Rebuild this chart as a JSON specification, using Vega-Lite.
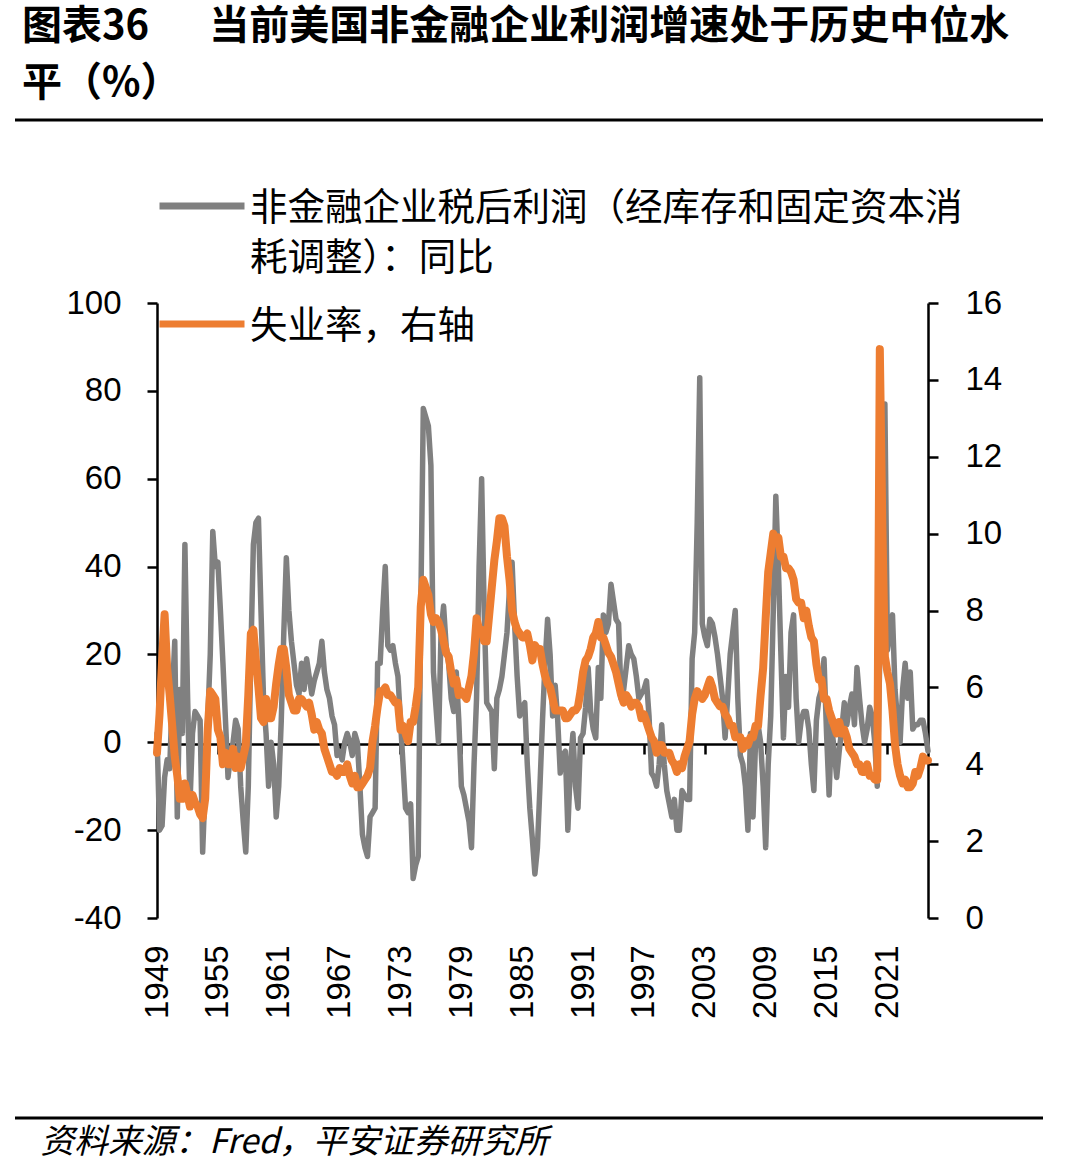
{
  "$schema": "https://vega.github.io/schema/vega-lite/v6.json",
  "width": 1028,
  "height": 998,
  "autosize": {"type": "none"},
  "padding": {"left": 15, "top": 120, "right": 22, "bottom": 57},
  "background": "white",
  "title": {
    "text": ["图表36　\u2002当前美国非金融企业利润增速处于历史中位水", "平（%）"],
    "anchor": "start",
    "frame": "group",
    "orient": "top",
    "baseline": "bottom",
    "dx": 7,
    "offset": -24,
    "lineHeight": 57,
    "font": "Noto Sans CJK SC",
    "fontSize": 40,
    "fontWeight": "bold",
    "color": "#000000"
  },
  "data": {
    "values": [
      {"t":1949,"p":2,"u":4.3},{"t":1949.25,"p":-20,"u":5.3},{"t":1949.5,"p":-19,"u":6.7},{"t":1949.75,"p":-8,"u":7.9},
      {"t":1950,"p":-4,"u":6.5},{"t":1950.25,"p":-6,"u":5.8},{"t":1950.5,"p":10,"u":5.0},{"t":1950.75,"p":23,"u":4.2},
      {"t":1951,"p":-17,"u":3.7},{"t":1951.25,"p":12,"u":3.1},{"t":1951.5,"p":2,"u":3.1},{"t":1951.75,"p":45,"u":3.5},
      {"t":1952,"p":12,"u":3.2},{"t":1952.25,"p":-14,"u":2.9},{"t":1952.5,"p":2,"u":3.2},{"t":1952.75,"p":7,"u":3.0},
      {"t":1953,"p":6,"u":2.9},{"t":1953.25,"p":5,"u":2.7},{"t":1953.5,"p":-25,"u":2.6},{"t":1953.75,"p":-10,"u":3.1},
      {"t":1954,"p":5,"u":4.9},{"t":1954.25,"p":20,"u":5.9},{"t":1954.5,"p":48,"u":5.8},{"t":1954.75,"p":40,"u":5.7},
      {"t":1955,"p":41,"u":4.9},{"t":1955.25,"p":30,"u":4.7},{"t":1955.5,"p":18,"u":4.0},{"t":1955.75,"p":5,"u":4.3},
      {"t":1956,"p":-8,"u":4.0},{"t":1956.25,"p":-3,"u":4.0},{"t":1956.5,"p":0,"u":4.4},{"t":1956.75,"p":5,"u":3.9},
      {"t":1957,"p":3,"u":4.2},{"t":1957.25,"p":-10,"u":3.9},{"t":1957.5,"p":-18,"u":4.2},{"t":1957.75,"p":-25,"u":4.5},
      {"t":1958,"p":-10,"u":5.8},{"t":1958.25,"p":20,"u":7.4},{"t":1958.5,"p":45,"u":7.5},{"t":1958.75,"p":50,"u":6.7},
      {"t":1959,"p":51,"u":6.0},{"t":1959.25,"p":30,"u":5.2},{"t":1959.5,"p":10,"u":5.1},{"t":1959.75,"p":2,"u":5.7},
      {"t":1960,"p":-10,"u":5.2},{"t":1960.25,"p":0,"u":5.2},{"t":1960.5,"p":-5,"u":5.5},{"t":1960.75,"p":-17,"u":6.1},
      {"t":1961,"p":-10,"u":6.6},{"t":1961.25,"p":5,"u":7.0},{"t":1961.5,"p":25,"u":7.0},{"t":1961.75,"p":42,"u":6.5},
      {"t":1962,"p":30,"u":5.8},{"t":1962.25,"p":23,"u":5.6},{"t":1962.5,"p":18,"u":5.4},{"t":1962.75,"p":13,"u":5.4},
      {"t":1963,"p":11,"u":5.7},{"t":1963.25,"p":18,"u":5.7},{"t":1963.5,"p":12,"u":5.6},{"t":1963.75,"p":19,"u":5.5},
      {"t":1964,"p":15,"u":5.6},{"t":1964.25,"p":11,"u":5.3},{"t":1964.5,"p":14,"u":4.9},{"t":1964.75,"p":16,"u":5.1},
      {"t":1965,"p":18,"u":4.9},{"t":1965.25,"p":23,"u":4.8},{"t":1965.5,"p":16,"u":4.4},{"t":1965.75,"p":12,"u":4.2},
      {"t":1966,"p":10,"u":4.0},{"t":1966.25,"p":6,"u":3.8},{"t":1966.5,"p":4,"u":3.8},{"t":1966.75,"p":-3,"u":3.7},
      {"t":1967,"p":-2,"u":3.9},{"t":1967.25,"p":-4,"u":3.8},{"t":1967.5,"p":0,"u":3.8},{"t":1967.75,"p":2,"u":4.0},
      {"t":1968,"p":0,"u":3.7},{"t":1968.25,"p":-3,"u":3.5},{"t":1968.5,"p":2,"u":3.7},{"t":1968.75,"p":0,"u":3.4},
      {"t":1969,"p":-10,"u":3.4},{"t":1969.25,"p":-21,"u":3.5},{"t":1969.5,"p":-24,"u":3.6},{"t":1969.75,"p":-26,"u":3.7},
      {"t":1970,"p":-17,"u":3.9},{"t":1970.25,"p":-16,"u":4.6},{"t":1970.5,"p":-15,"u":5.0},{"t":1970.75,"p":18,"u":5.5},
      {"t":1971,"p":18,"u":5.9},{"t":1971.25,"p":30,"u":5.9},{"t":1971.5,"p":40,"u":6.0},{"t":1971.75,"p":22,"u":5.8},
      {"t":1972,"p":21,"u":5.8},{"t":1972.25,"p":22,"u":5.7},{"t":1972.5,"p":18,"u":5.6},{"t":1972.75,"p":15,"u":5.6},
      {"t":1973,"p":5,"u":4.9},{"t":1973.25,"p":-5,"u":5.0},{"t":1973.5,"p":-15,"u":4.8},{"t":1973.75,"p":-16,"u":4.6},
      {"t":1974,"p":-14,"u":5.1},{"t":1974.25,"p":-31,"u":5.1},{"t":1974.5,"p":-28,"u":5.5},{"t":1974.75,"p":-26,"u":6.0},
      {"t":1975,"p":30,"u":8.1},{"t":1975.25,"p":76,"u":8.8},{"t":1975.5,"p":74,"u":8.6},{"t":1975.75,"p":72,"u":8.4},
      {"t":1976,"p":63,"u":7.9},{"t":1976.25,"p":16,"u":7.7},{"t":1976.5,"p":8,"u":7.8},{"t":1976.75,"p":0,"u":7.7},
      {"t":1977,"p":25,"u":7.5},{"t":1977.25,"p":31,"u":7.2},{"t":1977.5,"p":22,"u":6.9},{"t":1977.75,"p":18,"u":6.8},
      {"t":1978,"p":10,"u":6.4},{"t":1978.25,"p":7,"u":6.1},{"t":1978.5,"p":16,"u":6.2},{"t":1978.75,"p":5,"u":5.8},
      {"t":1979,"p":-10,"u":5.9},{"t":1979.25,"p":-12,"u":5.8},{"t":1979.5,"p":-15,"u":5.7},{"t":1979.75,"p":-18,"u":6.0},
      {"t":1980,"p":-24,"u":6.3},{"t":1980.25,"p":-5,"u":6.9},{"t":1980.5,"p":10,"u":7.8},{"t":1980.75,"p":40,"u":7.5},
      {"t":1981,"p":60,"u":7.5},{"t":1981.25,"p":30,"u":7.2},{"t":1981.5,"p":9,"u":7.2},{"t":1981.75,"p":8,"u":7.9},
      {"t":1982,"p":7,"u":8.6},{"t":1982.25,"p":-6,"u":9.3},{"t":1982.5,"p":10,"u":9.8},{"t":1982.75,"p":12,"u":10.4},
      {"t":1983,"p":15,"u":10.4},{"t":1983.25,"p":20,"u":10.2},{"t":1983.5,"p":25,"u":9.4},{"t":1983.75,"p":35,"u":8.8},
      {"t":1984,"p":41,"u":8.0},{"t":1984.25,"p":27,"u":7.7},{"t":1984.5,"p":15,"u":7.5},{"t":1984.75,"p":6,"u":7.4},
      {"t":1985,"p":8,"u":7.3},{"t":1985.25,"p":9,"u":7.3},{"t":1985.5,"p":-5,"u":7.4},{"t":1985.75,"p":-15,"u":7.1},
      {"t":1986,"p":-22,"u":6.7},{"t":1986.25,"p":-30,"u":7.1},{"t":1986.5,"p":-24,"u":7.0},{"t":1986.75,"p":-10,"u":7.0},
      {"t":1987,"p":5,"u":6.6},{"t":1987.25,"p":18,"u":6.3},{"t":1987.5,"p":28,"u":6.1},{"t":1987.75,"p":20,"u":6.0},
      {"t":1988,"p":6,"u":5.7},{"t":1988.25,"p":13,"u":5.4},{"t":1988.5,"p":5,"u":5.4},{"t":1988.75,"p":-7,"u":5.4},
      {"t":1989,"p":-3,"u":5.4},{"t":1989.25,"p":-2,"u":5.2},{"t":1989.5,"p":-20,"u":5.2},{"t":1989.75,"p":-5,"u":5.3},
      {"t":1990,"p":2,"u":5.4},{"t":1990.25,"p":-10,"u":5.4},{"t":1990.5,"p":-15,"u":5.5},{"t":1990.75,"p":1,"u":5.9},
      {"t":1991,"p":2,"u":6.4},{"t":1991.25,"p":8,"u":6.7},{"t":1991.5,"p":17,"u":6.8},{"t":1991.75,"p":7,"u":7.0},
      {"t":1992,"p":3,"u":7.3},{"t":1992.25,"p":1,"u":7.4},{"t":1992.5,"p":17,"u":7.7},{"t":1992.75,"p":10,"u":7.3},
      {"t":1993,"p":29,"u":7.3},{"t":1993.25,"p":25,"u":7.1},{"t":1993.5,"p":27,"u":6.9},{"t":1993.75,"p":36,"u":6.8},
      {"t":1994,"p":32,"u":6.6},{"t":1994.25,"p":28,"u":6.4},{"t":1994.5,"p":27,"u":6.1},{"t":1994.75,"p":10,"u":5.8},
      {"t":1995,"p":12,"u":5.6},{"t":1995.25,"p":17,"u":5.8},{"t":1995.5,"p":22,"u":5.7},{"t":1995.75,"p":20,"u":5.5},
      {"t":1996,"p":19,"u":5.6},{"t":1996.25,"p":15,"u":5.6},{"t":1996.5,"p":10,"u":5.5},{"t":1996.75,"p":11,"u":5.2},
      {"t":1997,"p":12,"u":5.3},{"t":1997.25,"p":14,"u":5.1},{"t":1997.5,"p":6,"u":4.9},{"t":1997.75,"p":-7,"u":4.7},
      {"t":1998,"p":-8,"u":4.6},{"t":1998.25,"p":-10,"u":4.3},{"t":1998.5,"p":-5,"u":4.5},{"t":1998.75,"p":4,"u":4.5},
      {"t":1999,"p":-5,"u":4.3},{"t":1999.25,"p":-11,"u":4.3},{"t":1999.5,"p":-14,"u":4.3},{"t":1999.75,"p":-17,"u":4.1},
      {"t":2000,"p":-13,"u":4.0},{"t":2000.25,"p":-20,"u":3.8},{"t":2000.5,"p":-20,"u":4.0},{"t":2000.75,"p":-11,"u":3.9},
      {"t":2001,"p":-12,"u":4.2},{"t":2001.25,"p":-13,"u":4.4},{"t":2001.5,"p":-13,"u":4.6},{"t":2001.75,"p":19,"u":5.3},
      {"t":2002,"p":25,"u":5.7},{"t":2002.25,"p":50,"u":5.9},{"t":2002.5,"p":83,"u":5.8},{"t":2002.75,"p":27,"u":5.7},
      {"t":2003,"p":24,"u":5.8},{"t":2003.25,"p":22,"u":6.0},{"t":2003.5,"p":28,"u":6.2},{"t":2003.75,"p":27,"u":6.0},
      {"t":2004,"p":24,"u":5.7},{"t":2004.25,"p":20,"u":5.6},{"t":2004.5,"p":15,"u":5.5},{"t":2004.75,"p":10,"u":5.5},
      {"t":2005,"p":1,"u":5.3},{"t":2005.25,"p":10,"u":5.2},{"t":2005.5,"p":20,"u":5.0},{"t":2005.75,"p":25,"u":5.0},
      {"t":2006,"p":30,"u":4.7},{"t":2006.25,"p":10,"u":4.7},{"t":2006.5,"p":-3,"u":4.7},{"t":2006.75,"p":-5,"u":4.4},
      {"t":2007,"p":-10,"u":4.6},{"t":2007.25,"p":-20,"u":4.5},{"t":2007.5,"p":2,"u":4.7},{"t":2007.75,"p":-17,"u":4.7},
      {"t":2008,"p":0,"u":5.0},{"t":2008.25,"p":4,"u":5.0},{"t":2008.5,"p":0,"u":5.8},{"t":2008.75,"p":-10,"u":6.5},
      {"t":2009,"p":-24,"u":7.8},{"t":2009.25,"p":-5,"u":9.0},{"t":2009.5,"p":6,"u":9.5},{"t":2009.75,"p":30,"u":10.0},
      {"t":2010,"p":56,"u":9.8},{"t":2010.25,"p":40,"u":9.9},{"t":2010.5,"p":20,"u":9.4},{"t":2010.75,"p":1,"u":9.4},
      {"t":2011,"p":15,"u":9.1},{"t":2011.25,"p":8,"u":9.1},{"t":2011.5,"p":25,"u":9.0},{"t":2011.75,"p":29,"u":8.8},
      {"t":2012,"p":10,"u":8.3},{"t":2012.25,"p":0,"u":8.2},{"t":2012.5,"p":5,"u":8.2},{"t":2012.75,"p":7,"u":7.8},
      {"t":2013,"p":7,"u":8.0},{"t":2013.25,"p":3,"u":7.6},{"t":2013.5,"p":-5,"u":7.3},{"t":2013.75,"p":-11,"u":7.2},
      {"t":2014,"p":5,"u":6.6},{"t":2014.25,"p":10,"u":6.2},{"t":2014.5,"p":12,"u":6.2},{"t":2014.75,"p":19,"u":5.7},
      {"t":2015,"p":2,"u":5.7},{"t":2015.25,"p":-12,"u":5.4},{"t":2015.5,"p":4,"u":5.2},{"t":2015.75,"p":-2,"u":5.0},
      {"t":2016,"p":-8,"u":4.8},{"t":2016.25,"p":-2,"u":5.1},{"t":2016.5,"p":3,"u":4.8},{"t":2016.75,"p":9,"u":4.9},
      {"t":2017,"p":4,"u":4.7},{"t":2017.25,"p":8,"u":4.4},{"t":2017.5,"p":11,"u":4.3},{"t":2017.75,"p":4,"u":4.2},
      {"t":2018,"p":17,"u":4.0},{"t":2018.25,"p":10,"u":4.0},{"t":2018.5,"p":4,"u":3.8},{"t":2018.75,"p":0,"u":3.8},
      {"t":2019,"p":3,"u":4.0},{"t":2019.25,"p":8,"u":3.7},{"t":2019.5,"p":6,"u":3.7},{"t":2019.75,"p":0,"u":3.6},
      {"t":2020,"p":-10,"u":3.6},{"t":2020.25,"p":20,"u":14.8},{"t":2020.5,"p":45,"u":10.2},{"t":2020.75,"p":77,"u":6.8},
      {"t":2021,"p":21,"u":6.4},{"t":2021.25,"p":25,"u":6.1},{"t":2021.5,"p":29,"u":5.4},{"t":2021.75,"p":12,"u":4.5},
      {"t":2022,"p":5,"u":4.0},{"t":2022.25,"p":0,"u":3.7},{"t":2022.5,"p":12,"u":3.5},{"t":2022.75,"p":18,"u":3.6},
      {"t":2023,"p":10,"u":3.4},{"t":2023.25,"p":16,"u":3.4},{"t":2023.5,"p":3,"u":3.5},{"t":2023.75,"p":4,"u":3.8},
      {"t":2024,"p":4,"u":3.7},{"t":2024.25,"p":5,"u":3.9},{"t":2024.5,"p":5,"u":4.2},{"t":2024.75,"p":2,"u":4.1},
      {"t":2025,"p":-2,"u":4.1}
    ]
  },
  "layer": [
    {
      "mark": {"type": "line", "strokeWidth": 5.5, "strokeJoin": "round", "strokeCap": "round"},
      "encoding": {
        "x": {
          "field": "t",
          "type": "quantitative",
          "scale": {"domain": [1949, 2025], "range": [142, 913], "nice": false, "zero": false},
          "axis": {
            "orient": "bottom",
            "offset": -374,
            "values": [1949, 1955, 1961, 1967, 1973, 1979, 1985, 1991, 1997, 2003, 2009, 2015, 2021],
            "labels": false,
            "grid": false,
            "title": null,
            "domainColor": "#000000",
            "domainWidth": 2.5,
            "tickColor": "#000000",
            "tickWidth": 2.5,
            "tickSize": 10
          }
        },
        "y": {
          "field": "p",
          "type": "quantitative",
          "scale": {"domain": [-40, 100], "range": [798, 183], "nice": false, "zero": false},
          "axis": {
            "orient": "left",
            "offset": -142,
            "values": [-40, -20, 0, 20, 40, 60, 80, 100],
            "labelExpr": "'' + datum.value",
            "grid": false,
            "title": null,
            "domainColor": "#000000",
            "domainWidth": 2.5,
            "tickColor": "#000000",
            "tickWidth": 2.5,
            "tickSize": 10,
            "labelFont": "Liberation Sans",
            "labelFontSize": 33,
            "labelColor": "#000000",
            "labelPadding": 26,
            "labelFlush": false,
            "labelOverlap": false
          }
        },
        "color": {
          "datum": "非金融企业税后利润（经库存和固定资本消耗调整）：同比",
          "type": "nominal",
          "scale": {
            "domain": ["非金融企业税后利润（经库存和固定资本消耗调整）：同比", "失业率，右轴"],
            "range": ["#808080", "#ED7D31"]
          },
          "legend": {
            "orient": "none",
            "legendX": 141,
            "legendY": 40,
            "title": null,
            "padding": 0,
            "symbolType": "stroke",
            "symbolSize": 7225,
            "symbolStrokeWidth": 7,
            "labelFont": "Noto Sans CJK SC",
            "labelFontSize": 37.5,
            "labelColor": "#000000",
            "labelLimit": 2000,
            "labelOffset": 2,
            "labelBaseline": "alphabetic",
            "rowPadding": -1,
            "labelExpr": "datum.label == '非金融企业税后利润（经库存和固定资本消耗调整）：同比' ? ['非金融企业税后利润（经库存和固定资本消', '耗调整）：同比'] : datum.label",
            "encode": {"labels": {"update": {"dy": {"value": 14}, "lineHeight": {"value": 50}}}}
          }
        }
      }
    },
    {
      "mark": {"type": "line", "strokeWidth": 8, "strokeJoin": "round", "strokeCap": "round"},
      "encoding": {
        "x": {
          "field": "t",
          "type": "quantitative",
          "scale": {"domain": [1949, 2025], "range": [142, 913], "nice": false, "zero": false},
          "axis": {
            "orient": "bottom",
            "offset": -200,
            "values": [1949, 1955, 1961, 1967, 1973, 1979, 1985, 1991, 1997, 2003, 2009, 2015, 2021],
            "labelExpr": "'' + datum.value",
            "domain": false,
            "ticks": false,
            "grid": false,
            "labelAngle": -90,
            "labelAlign": "right",
            "labelBaseline": "middle",
            "labelPadding": 27,
            "labelFont": "Liberation Sans",
            "labelFontSize": 33,
            "labelColor": "#000000",
            "labelFlush": false,
            "labelOverlap": false,
            "title": "资料来源：Fred，平安证券研究所",
            "titleFont": "Noto Sans CJK SC",
            "titleFontSize": 33.7,
            "titleFontStyle": "italic",
            "titleFontWeight": "normal",
            "titleColor": "#000000",
            "titleAlign": "left",
            "titleBaseline": "middle",
            "titleX": 25,
            "titleY": 224
          }
        },
        "y": {
          "field": "u",
          "type": "quantitative",
          "scale": {"domain": [0, 16], "range": [798, 183], "nice": false, "zero": false},
          "axis": {
            "orient": "right",
            "offset": -115,
            "values": [0, 2, 4, 6, 8, 10, 12, 14, 16],
            "grid": false,
            "title": null,
            "domainColor": "#000000",
            "domainWidth": 2.5,
            "tickColor": "#000000",
            "tickWidth": 2.5,
            "tickSize": 10,
            "labelFont": "Liberation Sans",
            "labelFontSize": 33,
            "labelColor": "#000000",
            "labelPadding": 27,
            "labelFlush": false,
            "labelOverlap": false
          }
        },
        "color": {"datum": "失业率，右轴", "type": "nominal"}
      }
    }
  ],
  "resolve": {"scale": {"y": "independent"}, "axis": {"x": "independent"}},
  "config": {
    "view": {"stroke": "#000000", "strokeWidth": 3, "strokeDash": [1028, 998], "fill": "white"}
  }
}
